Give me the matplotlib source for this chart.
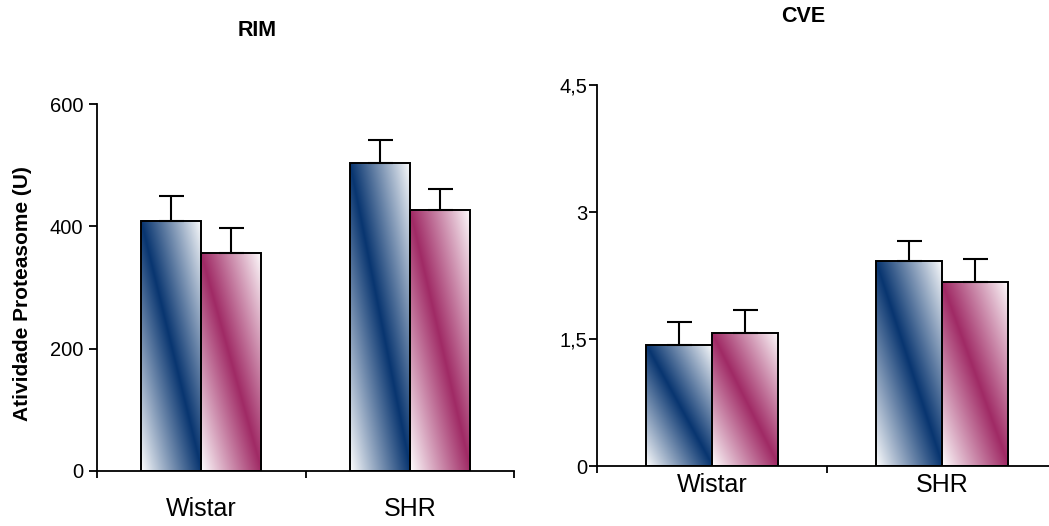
import numpy as np
import matplotlib
matplotlib.use("Agg")
import matplotlib.pyplot as plt
from matplotlib.colors import to_rgb

plt.rcParams['font.family'] = ['Liberation Sans', 'DejaVu Sans']

groups = ["Wistar", "SHR"]

# RIM panel
rim_blue = [409, 503]
rim_blue_err = [41, 38]
rim_pink = [356, 427]
rim_pink_err = [41, 34]

# CVE panel
cve_blue = [1.43, 2.42]
cve_blue_err = [0.27, 0.24]
cve_pink = [1.57, 2.17]
cve_pink_err = [0.27, 0.28]

rim_ticks = [0, 200, 400, 600]
rim_ticklabels = ["0", "200", "400", "600"]
cve_ticks = [0, 1.5, 3, 4.5]
cve_ticklabels = ["0", "1,5", "3", "4,5"]

BLUE = "#083570"
PINK = "#a02a65"
W, H = 1049, 526


def gradient_fill(ax, patch, color):
    # diagonal gradient: dark band from top-left to bottom-right, white corners
    x0, w, h = patch.get_x(), patch.get_width(), patch.get_height()
    n = 200
    u, v = np.meshgrid(np.linspace(0, 1, n), np.linspace(0, 1, n))
    t = np.clip(1 - np.abs(u + v - 1), 0, 1) ** 0.95
    c = np.array(to_rgb(color))
    img = 1 - t[..., None] * (1 - c)
    ax.imshow(img, extent=[x0, x0 + w, 0, h], origin="lower", aspect="auto",
              interpolation="bilinear", zorder=1, clip_path=patch, clip_on=True)


def panel(ax, blue, blue_err, pink, pink_err, ticks, ticklabels, ymax,
          ytick_pad, xlab_pad):
    x = np.arange(len(groups)) + 0.5
    bw = 0.288
    b1 = ax.bar(x - bw / 2, blue, bw, facecolor="none", edgecolor="black",
                linewidth=1.4, zorder=3)
    b2 = ax.bar(x + bw / 2, pink, bw, facecolor="none", edgecolor="black",
                linewidth=1.4, zorder=3)
    for p in b1:
        gradient_fill(ax, p, BLUE)
    for p in b2:
        gradient_fill(ax, p, PINK)
    ax.errorbar(x - bw / 2, blue, yerr=[np.zeros(len(blue)), blue_err],
                fmt="none", ecolor="black", elinewidth=1.5, capsize=9,
                capthick=1.5, zorder=2)
    ax.errorbar(x + bw / 2, pink, yerr=[np.zeros(len(pink)), pink_err],
                fmt="none", ecolor="black", elinewidth=1.5, capsize=9,
                capthick=1.5, zorder=2)

    ax.set_xlim(0, len(groups))
    ax.set_ylim(0, ymax)
    for s in ["top", "right"]:
        ax.spines[s].set_visible(False)
    for s in ["left", "bottom"]:
        ax.spines[s].set_linewidth(1.3)
    ax.set_yticks(ticks, ticklabels)
    ax.tick_params(axis="y", direction="out", length=6, width=1.3,
                   labelsize=14.5, pad=ytick_pad)
    ax.set_xticks(np.arange(len(groups) + 1))
    ax.set_xticklabels([])
    ax.set_xticks(x, groups, minor=True)
    ax.tick_params(axis="x", which="major", direction="out", length=5, width=1.3)
    ax.tick_params(axis="x", which="minor", length=0, labelsize=18, pad=xlab_pad)


fig = plt.figure(figsize=(W / 100, H / 100), dpi=100)

ax1 = fig.add_axes([97 / W, 1 - 471 / H, 417 / W, 367 / H])
panel(ax1, rim_blue, rim_blue_err, rim_pink, rim_pink_err,
      rim_ticks, rim_ticklabels, 600, 4, 19)

ax2 = fig.add_axes([597 / W, 1 - 466 / H, 460 / W, 381 / H])
panel(ax2, cve_blue, cve_blue_err, cve_pink, cve_pink_err,
      cve_ticks, cve_ticklabels, 4.5, 1, 5)

fig.text(257 / W, 1 - 31 / H, "RIM", ha="center", va="center",
         fontsize=15.5, fontweight="bold")
fig.text(803 / W, 1 - 16 / H, "CVE", ha="center", va="center",
         fontsize=15.5, fontweight="bold")
fig.text(23 / W, 1 - 294 / H, "Atividade Proteasome (U)", rotation=90,
         ha="center", va="center", fontsize=15, fontweight="bold")

fig.savefig("out.png", dpi=100)
